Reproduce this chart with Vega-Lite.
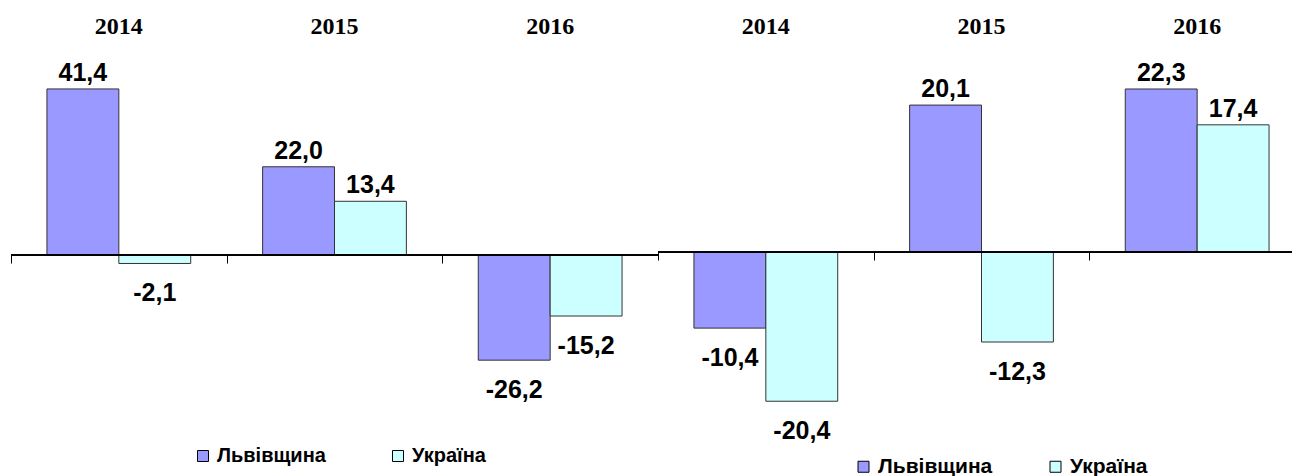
{
  "$schema": "https://vega.github.io/schema/vega-lite/v6.json",
  "padding": {"left": 10, "top": 14, "right": 0, "bottom": 0},
  "background": "#ffffff",
  "config": {
    "locale": {"number": {"decimal": ",", "thousands": " ", "grouping": [3], "currency": ["", ""], "minus": "-"}},
    "view": {"stroke": null},
    "font": "Liberation Sans"
  },
  "datasets": {
    "p1": [
      {"year": "2014", "region": "Львівщина", "value": 41.4},
      {"year": "2014", "region": "Україна", "value": -2.1},
      {"year": "2015", "region": "Львівщина", "value": 22.0},
      {"year": "2015", "region": "Україна", "value": 13.4},
      {"year": "2016", "region": "Львівщина", "value": -26.2},
      {"year": "2016", "region": "Україна", "value": -15.2}
    ],
    "p2": [
      {"year": "2014", "region": "Львівщина", "value": -10.4},
      {"year": "2014", "region": "Україна", "value": -20.4},
      {"year": "2015", "region": "Львівщина", "value": 20.1},
      {"year": "2015", "region": "Україна", "value": -12.3},
      {"year": "2016", "region": "Львівщина", "value": 22.3},
      {"year": "2016", "region": "Україна", "value": 17.4}
    ]
  },
  "spacing": 0,
  "bounds": "flush",
  "resolve": {"scale": {"color": "independent"}},
  "hconcat": [
    {
      "width": 647,
      "height": 400,
      "data": {"name": "p1"},
      "resolve": {"axis": {"x": "independent"}},
      "layer": [
        {
          "mark": {"type": "bar", "stroke": "#333333", "strokeWidth": 1},
          "encoding": {
            "x": {"field": "year", "type": "nominal", "scale": {"paddingInner": 0.3333, "paddingOuter": 0.1667},
              "axis": {"orient": "top", "title": null, "ticks": false, "domain": false, "labelFont": "Liberation Serif", "labelFontWeight": "bold", "labelFontSize": 24, "labelColor": "#000000", "labelPadding": 2, "labelAngle": 0}},
            "xOffset": {"field": "region", "type": "nominal", "scale": {"domain": ["Львівщина", "Україна"], "paddingInner": 0, "paddingOuter": 0}},
            "y": {"field": "value", "type": "quantitative", "scale": {"domain": [-46.1, 53.6], "nice": false, "zero": false}, "axis": null},
            "color": {"field": "region", "type": "nominal", "scale": {"domain": ["Львівщина", "Україна"], "range": ["#9999ff", "#ccffff"]},
              "legend": {"orient": "none", "legendX": 182, "legendY": 406, "direction": "horizontal", "columns": 2, "title": null, "symbolType": "square", "symbolSize": 121, "symbolStrokeColor": "#000000", "symbolStrokeWidth": 1, "labelFontSize": 20, "labelFontWeight": "bold", "labelFont": "Liberation Sans", "labelColor": "#000000", "labelOffset": 4, "columnPadding": 62, "padding": 0}}
          }
        },
        {
          "transform": [{"filter": "datum.value > 0"}],
          "mark": {"type": "text", "baseline": "alphabetic", "dy": -8, "fontSize": 25, "fontWeight": "bold", "color": "#000000"},
          "encoding": {
            "x": {"field": "year", "type": "nominal",
              "axis": {"orient": "bottom", "offset": -185, "title": null, "labels": false, "domain": false, "ticks": true, "tickOffset": -107.75, "tickSize": 8, "tickColor": "#000000", "tickWidth": 1}},
            "xOffset": {"field": "region", "type": "nominal"},
            "y": {"field": "value", "type": "quantitative"},
            "text": {"field": "value", "type": "quantitative", "format": ".1f"}
          }
        },
        {
          "transform": [{"filter": "datum.value < 0"}],
          "mark": {"type": "text", "baseline": "top", "dy": 18, "fontSize": 25, "fontWeight": "bold", "color": "#000000"},
          "encoding": {
            "x": {"field": "year", "type": "nominal", "axis": null},
            "xOffset": {"field": "region", "type": "nominal"},
            "y": {"field": "value", "type": "quantitative"},
            "text": {"field": "value", "type": "quantitative", "format": ".1f"}
          }
        },
        {
          "mark": {"type": "rule", "color": "#000000", "strokeWidth": 1},
          "encoding": {"y": {"datum": 0}}
        }
      ]
    },
    {
      "width": 635,
      "height": 400,
      "data": {"name": "p2"},
      "resolve": {"axis": {"x": "independent"}},
      "layer": [
        {
          "mark": {"type": "bar", "stroke": "#333333", "strokeWidth": 1},
          "encoding": {
            "x": {"field": "year", "type": "nominal", "scale": {"range": [0, 647], "paddingInner": 0.3333, "paddingOuter": 0.1667},
              "axis": {"orient": "top", "title": null, "ticks": false, "domain": false, "labelFont": "Liberation Serif", "labelFontWeight": "bold", "labelFontSize": 24, "labelColor": "#000000", "labelPadding": 2, "labelAngle": 0}},
            "xOffset": {"field": "region", "type": "nominal", "scale": {"domain": ["Львівщина", "Україна"], "paddingInner": 0, "paddingOuter": 0}},
            "y": {"field": "value", "type": "quantitative", "scale": {"domain": [-25.7, 29.0], "nice": false, "zero": false}, "axis": null},
            "color": {"field": "region", "type": "nominal", "scale": {"domain": ["Львівщина", "Україна"], "range": ["#9999ff", "#ccffff"]},
              "legend": {"orient": "none", "legendX": 195, "legendY": 416, "direction": "horizontal", "columns": 2, "title": null, "symbolType": "square", "symbolSize": 121, "symbolStrokeColor": "#000000", "symbolStrokeWidth": 1, "labelFontSize": 21, "labelFontWeight": "bold", "labelFont": "Liberation Sans", "labelColor": "#000000", "labelOffset": 4, "columnPadding": 52, "padding": 0}}
          }
        },
        {
          "transform": [{"filter": "datum.value > 0"}],
          "mark": {"type": "text", "baseline": "alphabetic", "dy": -8, "fontSize": 25, "fontWeight": "bold", "color": "#000000"},
          "encoding": {
            "x": {"field": "year", "type": "nominal",
              "axis": {"orient": "bottom", "offset": -188, "title": null, "labels": false, "domain": false, "ticks": true, "tickOffset": -107.75, "tickSize": 8, "tickColor": "#000000", "tickWidth": 1}},
            "xOffset": {"field": "region", "type": "nominal"},
            "y": {"field": "value", "type": "quantitative"},
            "text": {"field": "value", "type": "quantitative", "format": ".1f"}
          }
        },
        {
          "transform": [{"filter": "datum.value < 0"}],
          "mark": {"type": "text", "baseline": "top", "dy": 18, "fontSize": 25, "fontWeight": "bold", "color": "#000000"},
          "encoding": {
            "x": {"field": "year", "type": "nominal", "axis": null},
            "xOffset": {"field": "region", "type": "nominal"},
            "y": {"field": "value", "type": "quantitative"},
            "text": {"field": "value", "type": "quantitative", "format": ".1f"}
          }
        },
        {
          "mark": {"type": "rule", "color": "#000000", "strokeWidth": 1},
          "encoding": {"y": {"datum": 0}}
        }
      ]
    }
  ]
}
